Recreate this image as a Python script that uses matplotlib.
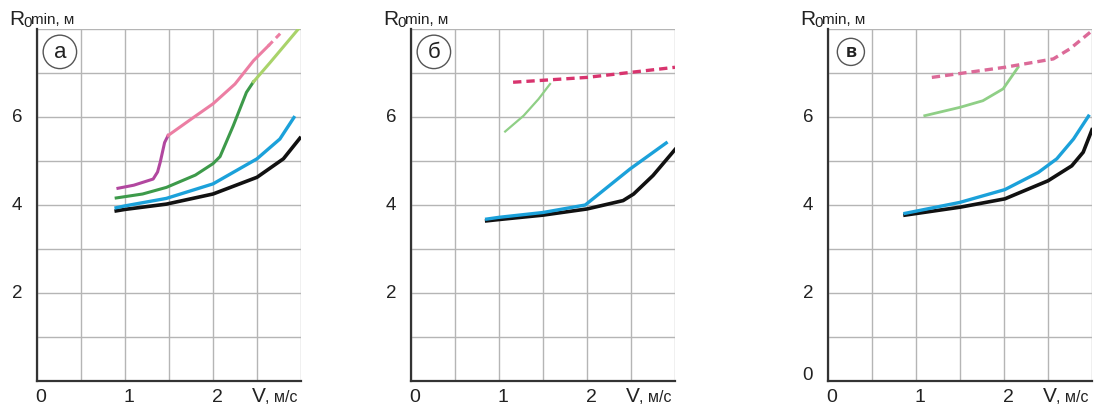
import matplotlib
matplotlib.use("Agg")
import matplotlib.pyplot as plt

plt.rcParams['font.family'] = ['Liberation Sans', 'DejaVu Sans']

# ---------------- data ----------------
panel_labels = ["а", "б", "в"]
x_tick_vals = [0, 1, 2]
x_tick_labels = ["0", "1", "2"]
y_tick_vals_ab = [2, 4, 6]
y_tick_vals_c = [0, 2, 4, 6]

# panel а
a_black_x = [0.88, 1.0, 1.47, 2.0, 2.5, 2.8, 3.0]
a_black_y = [3.86, 3.90, 4.02, 4.25, 4.63, 5.05, 5.55]
a_blue_x = [0.88, 1.0, 1.47, 2.0, 2.5, 2.76, 2.93]
a_blue_y = [3.93, 3.98, 4.15, 4.48, 5.05, 5.50, 6.02]
a_dgreen_x = [0.90, 1.2, 1.47, 1.8, 2.0, 2.08, 2.23, 2.38, 2.46]
a_dgreen_y = [4.16, 4.25, 4.40, 4.68, 4.94, 5.10, 5.80, 6.56, 6.80]
a_lgreen_x = [2.46, 2.65, 2.97]
a_lgreen_y = [6.80, 7.24, 8.00]
a_magenta_x = [0.92, 1.1, 1.32, 1.37, 1.40, 1.45, 1.49]
a_magenta_y = [4.38, 4.45, 4.59, 4.75, 4.97, 5.42, 5.58]
a_pink_x = [1.49, 1.75, 2.0, 2.25, 2.46, 2.63]
a_pink_y = [5.58, 5.95, 6.30, 6.75, 7.28, 7.62]
a_pinkd_x = [2.63, 2.78]
a_pinkd_y = [7.62, 7.93]

# panel б
b_black_x = [0.86, 1.0, 1.5, 2.0, 2.41, 2.53, 2.75, 3.0]
b_black_y = [3.64, 3.67, 3.77, 3.91, 4.10, 4.25, 4.67, 5.26]
b_blue_x = [0.86, 1.0, 1.5, 1.98, 2.49, 2.9]
b_blue_y = [3.68, 3.72, 3.83, 4.00, 4.82, 5.41]
b_lgreen_x = [1.07, 1.28, 1.45, 1.58]
b_lgreen_y = [5.67, 6.03, 6.41, 6.75]
b_pinkd_x = [1.16, 2.0, 3.0]
b_pinkd_y = [6.79, 6.90, 7.13]

# panel в
c_black_x = [0.875, 1.5, 2.01, 2.5, 2.77, 2.9, 3.0]
c_black_y = [3.77, 3.95, 4.14, 4.55, 4.89, 5.20, 5.71]
c_blue_x = [0.875, 1.5, 2.01, 2.39, 2.6, 2.79, 2.96]
c_blue_y = [3.81, 4.06, 4.35, 4.74, 5.05, 5.50, 6.02]
c_lgreen_x = [1.10, 1.5, 1.76, 1.99, 2.16]
c_lgreen_y = [6.03, 6.22, 6.37, 6.64, 7.13]
c_pinkd_x = [1.18, 2.01, 2.56, 2.75, 3.0]
c_pinkd_y = [6.90, 7.13, 7.32, 7.55, 7.96]

# ---------------- styles ----------------
BLACK = "#111111"
BLUE = "#1ba1da"
DGREEN = "#3d9a4a"
LGREEN = "#a9d36a"
LGREEN2 = "#8fcf86"
MAGENTA = "#b2479f"
PINK = "#ec7ea3"
PINKD = "#d8346e"
PINKD2 = "#dc6a98"
TXT = "#222222"

fig = plt.figure(figsize=(11.07, 4.10), dpi=100)
W, H = 1107, 410
lefts = [37, 411, 828]
ax_w, top, bottom = 264, 30, 382

axes = []
for i, lp in enumerate(lefts):
    ax = fig.add_axes([lp / W, (H - bottom) / H, ax_w / W, (bottom - top) / H])
    ax.set_xlim(0, 3)
    ax.set_ylim(0, 8)
    ax.set_xticks([0.5 * k for k in range(7)])
    ax.set_yticks(list(range(9)))
    ax.grid(True, color="#b5b5b5", linewidth=1.0)
    ax.set_axisbelow(True)
    for s in ["top", "right"]:
        ax.spines[s].set_visible(False)
    for s in ["left", "bottom"]:
        ax.spines[s].set_color("#333333")
        ax.spines[s].set_linewidth(1.6)
    ax.tick_params(length=0, labelbottom=False, labelleft=False)
    yv = y_tick_vals_c if i == 2 else y_tick_vals_ab
    for v in yv:
        yy = v + 0.15 if v == 0 else v
        ax.text(-0.17, yy, str(v), ha="right", va="center", fontsize=13.5,
                color=TXT, clip_on=False)
    for v, t in zip(x_tick_vals, x_tick_labels):
        ax.text(v + 0.045, -0.455, t, ha="center", va="baseline", fontsize=14,
                color=TXT, clip_on=False)
    # axis labels
    ax.text(2.44, -0.455, "V", ha="left", va="baseline", fontsize=15, color=TXT,
            clip_on=False)
    ax.text(2.59, -0.455, ", м/с", ha="left", va="baseline", fontsize=11.5,
            color=TXT, clip_on=False)
    ax.text(-0.31, 8.11, "R", ha="left", va="baseline", fontsize=15,
            color=TXT, clip_on=False)
    ax.text(-0.16, 8.06, "0", ha="left", va="baseline", fontsize=11,
            color=TXT, clip_on=False)
    ax.text(-0.07, 8.13, "min, м", ha="left", va="baseline", fontsize=11,
            color=TXT, clip_on=False)
    ax.text(0.26, 7.48, panel_labels[i], ha="center", va="center",
            fontsize=16 if i < 2 else 13, color=TXT,
            fontweight="bold" if i == 2 else "normal",
            bbox=dict(boxstyle="circle,pad=0.28", fc="white", ec="#555555", lw=1.0))
    axes.append(ax)

ax = axes[0]
ax.plot(a_black_x, a_black_y, color=BLACK, lw=2.6, solid_capstyle="butt")
ax.plot(a_blue_x, a_blue_y, color=BLUE, lw=2.4, solid_capstyle="butt")
ax.plot(a_dgreen_x, a_dgreen_y, color=DGREEN, lw=2.2)
ax.plot(a_lgreen_x, a_lgreen_y, color=LGREEN, lw=2.2)
ax.plot(a_magenta_x, a_magenta_y, color=MAGENTA, lw=2.2)
ax.plot(a_pink_x, a_pink_y, color=PINK, lw=2.2)
ax.plot(a_pinkd_x, a_pinkd_y, color=PINK, lw=2.2, ls=(0, (2, 1.5)))

ax = axes[1]
ax.plot(b_black_x, b_black_y, color=BLACK, lw=2.6)
ax.plot(b_blue_x, b_blue_y, color=BLUE, lw=2.4)
ax.plot(b_lgreen_x, b_lgreen_y, color=LGREEN2, lw=1.6)
ax.plot(b_pinkd_x, b_pinkd_y, color=PINKD, lw=2.4, ls=(0, (2.5, 1.5)))

ax = axes[2]
ax.plot(c_black_x, c_black_y, color=BLACK, lw=2.6)
ax.plot(c_blue_x, c_blue_y, color=BLUE, lw=2.4)
ax.plot(c_lgreen_x, c_lgreen_y, color=LGREEN2, lw=2.0)
ax.plot(c_pinkd_x, c_pinkd_y, color=PINKD2, lw=2.4, ls=(0, (2.5, 1.5)))

fig.savefig("out.png", dpi=100, facecolor="white")
